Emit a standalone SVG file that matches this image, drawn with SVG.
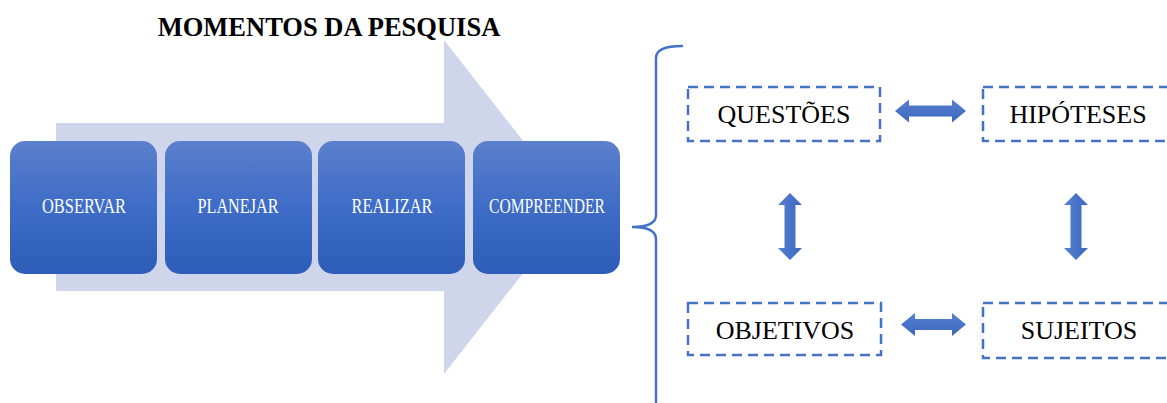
<svg xmlns="http://www.w3.org/2000/svg" width="1167" height="403" viewBox="0 0 1167 403">
  <defs>
    <linearGradient id="stepFill" x1="0" y1="0" x2="0" y2="1">
      <stop offset="0" stop-color="#5b80cd"/>
      <stop offset="0.5" stop-color="#3e6cc6"/>
      <stop offset="1" stop-color="#2d5db8"/>
    </linearGradient>
    <linearGradient id="linkFillH" x1="0" y1="0" x2="0" y2="1">
      <stop offset="0" stop-color="#5680d0"/>
      <stop offset="1" stop-color="#3a67c0"/>
    </linearGradient>
    <linearGradient id="linkFillV" x1="0" y1="0" x2="1" y2="0">
      <stop offset="0" stop-color="#5680d0"/>
      <stop offset="1" stop-color="#3a67c0"/>
    </linearGradient>
  </defs>
  <style>
    .title { font-family: "Liberation Serif", "Times New Roman", serif; font-weight: bold; font-size: 26.5px; fill: #000; }
    .step { fill: url(#stepFill); }
    .stepText { font-family: "Liberation Serif", "Times New Roman", serif; font-size: 21px; fill: #ffffff; }
    .frame { fill: none; stroke: #4472c4; stroke-width: 2.5; stroke-dasharray: 10 6; }
    .label { font-family: "Liberation Serif", "Times New Roman", serif; font-size: 26px; fill: #000; }
    .brace { fill: none; stroke: #4472c4; stroke-width: 2.5; stroke-linecap: round; }
  </style>

  <rect width="1167" height="403" fill="#ffffff"/>

  <text class="title" x="329" y="36" text-anchor="middle">MOMENTOS DA PESQUISA</text>

  <!-- process band behind the steps -->
  <polygon id="process-arrow" points="56,123 444,123 444,40 575,207 444,374 444,291 56,291" fill="#cfd5ea"/>

  <g id="step-observar">
    <rect class="step" x="10" y="141" width="147" height="133" rx="15"/>
    <text class="stepText" x="84" y="213" text-anchor="middle" textLength="84" lengthAdjust="spacingAndGlyphs">OBSERVAR</text>
  </g>
  <g id="step-planejar">
    <rect class="step" x="165" y="141" width="147" height="133" rx="15"/>
    <text class="stepText" x="238" y="213" text-anchor="middle" textLength="81" lengthAdjust="spacingAndGlyphs">PLANEJAR</text>
  </g>
  <g id="step-realizar">
    <rect class="step" x="318" y="141" width="147" height="133" rx="15"/>
    <text class="stepText" x="392" y="213" text-anchor="middle" textLength="81" lengthAdjust="spacingAndGlyphs">REALIZAR</text>
  </g>
  <g id="step-compreender">
    <rect class="step" x="473" y="141" width="147" height="133" rx="15"/>
    <text class="stepText" x="547" y="213" text-anchor="middle" textLength="116" lengthAdjust="spacingAndGlyphs">COMPREENDER</text>
  </g>

  <!-- curly brace grouping the research elements -->
  <path id="brace" class="brace" d="M682,46 Q656,46 656,58 L656,215 Q656,227 632,227 Q656,227 656,239 L656,410"/>

  <g id="node-questoes">
    <rect class="frame" x="688" y="87" width="192" height="54"/>
    <text class="label" x="784" y="123" text-anchor="middle">QUESTÕES</text>
  </g>
  <g id="node-hipoteses">
    <rect class="frame" x="983" y="87" width="200" height="54"/>
    <text class="label" x="1078" y="123" text-anchor="middle">HIPÓTESES</text>
  </g>
  <g id="node-objetivos">
    <rect class="frame" x="688" y="303" width="193" height="52"/>
    <text class="label" x="785" y="339" text-anchor="middle">OBJETIVOS</text>
  </g>
  <g id="node-sujeitos">
    <rect class="frame" x="983" y="303" width="200" height="55"/>
    <text class="label" x="1079" y="339" text-anchor="middle">SUJEITOS</text>
  </g>

  <g id="connectors">
    <polygon fill="url(#linkFillH)" points="895,111 909,99.5 909,105.5 952,105.5 952,99.5 966,111 952,122.5 952,116.5 909,116.5 909,122.5"/>
    <polygon fill="url(#linkFillH)" points="901,324.5 915,313 915,319 952,319 952,313 966,324.5 952,336 952,330 915,330 915,336"/>
    <polygon fill="url(#linkFillV)" points="790,193 802,205 795.5,205 795.5,248 802,248 790,260 778,248 784.5,248 784.5,205 778,205"/>
    <polygon fill="url(#linkFillV)" points="1076,193 1088,205 1081.5,205 1081.5,248 1088,248 1076,260 1064,248 1070.5,248 1070.5,205 1064,205"/>
  </g>
</svg>
